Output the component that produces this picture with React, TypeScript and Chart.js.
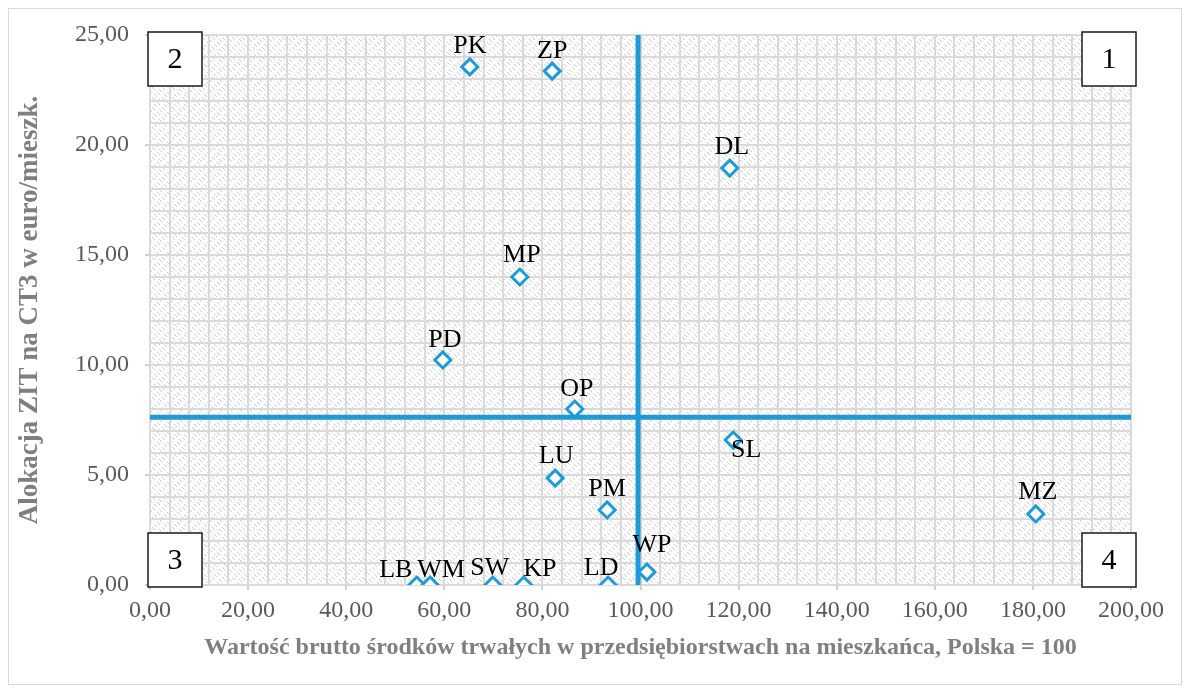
import React, { useEffect, useRef } from "react";
import { Chart, registerables } from "chart.js";

Chart.register(...registerables);

const regionCodes = ["PK", "ZP", "DL", "MP", "PD", "OP", "SL", "LU", "PM", "MZ", "WP", "LB", "WM", "SW", "KP", "LD"];
const assetValue = [65.2, 82.0, 118.2, 75.4, 59.7, 86.6, 118.9, 82.6, 93.2, 180.6, 101.3, 54.4, 57.1, 69.9, 76.2, 93.4];
const zitAllocation = [23.55, 23.36, 18.95, 14.0, 10.23, 8.0, 6.59, 4.86, 3.41, 3.23, 0.59, 0, 0, 0, 0, 0];

const xAverage = 99.5;
const yAverage = 7.62;
const quadrantNames = ["1", "2", "3", "4"];

// label placement (pixel offsets from the marker) – styling only
const labelOffsets: [number, number][] = [
  [0, -21], [0, -20], [2, -21], [2, -22], [2, -20], [2, -20], [13, 10], [1, -22],
  [0, -21], [2, -22], [5, -27], [-21, -15], [11, -15], [-3, -17], [16, -16], [-7, -17],
];

const BLUE = "#1E9AD6";
const SERIF = "'Liberation Serif', 'Times New Roman', serif";

function makeHatch(): CanvasPattern | string {
  const c = document.createElement("canvas");
  c.width = 10;
  c.height = 10;
  const g = c.getContext("2d");
  if (!g) return "#fff";
  g.fillStyle = "#ffffff";
  g.fillRect(0, 0, 10, 10);
  g.fillStyle = "rgb(206,206,206)";
  for (let x = 0; x < 10; x++) {
    for (let y = 0; y < 10; y++) {
      if (((x - y) % 5 + 5) % 5 === 0 && (x + y) % 10 < 6) g.fillRect(x, y, 1, 1);
    }
  }
  const p = g.createPattern(c, "repeat");
  return p || "#fff";
}

const hatchPlugin = {
  id: "hatchBg",
  beforeDraw(chart: any) {
    const { ctx, chartArea } = chart;
    ctx.save();
    ctx.fillStyle = makeHatch();
    ctx.fillRect(chartArea.left, chartArea.top, chartArea.right - chartArea.left, chartArea.bottom - chartArea.top);
    ctx.restore();
  },
};

const labelPlugin = {
  id: "pointLabels",
  afterDatasetsDraw(chart: any) {
    const { ctx } = chart;
    const meta = chart.getDatasetMeta(0);
    ctx.save();
    ctx.font = `26px ${SERIF}`;
    ctx.fillStyle = "#000";
    ctx.textAlign = "center";
    ctx.textBaseline = "middle";
    meta.data.forEach((el: any, i: number) => {
      const [dx, dy] = labelOffsets[i];
      ctx.fillText(regionCodes[i], el.x + dx, el.y + dy);
    });
    ctx.restore();
  },
};

const quadrantPlugin = {
  id: "quadrants",
  afterDraw(chart: any) {
    const { ctx, chartArea } = chart;
    const s = 54;
    const boxes: [number, number][] = [
      [chartArea.right + 5 - s, chartArea.top - 3],
      [chartArea.left - 2, chartArea.top - 3],
      [chartArea.left - 2, chartArea.bottom + 2 - s],
      [chartArea.right + 5 - s, chartArea.bottom + 2 - s],
    ];
    ctx.save();
    boxes.forEach(([x, y], i) => {
      ctx.fillStyle = "#fff";
      ctx.fillRect(x, y, s, s);
      ctx.strokeStyle = "#1a1a1a";
      ctx.lineWidth = 1.5;
      ctx.strokeRect(x, y, s, s);
      ctx.fillStyle = "#000";
      ctx.font = `30px ${SERIF}`;
      ctx.textAlign = "center";
      ctx.textBaseline = "middle";
      ctx.fillText(quadrantNames[i], x + s / 2, y + s / 2 + 1);
    });
    ctx.restore();
  },
};

const fmt = (v: number) => v.toFixed(2).replace(".", ",");

export default function App() {
  const ref = useRef<HTMLCanvasElement | null>(null);

  useEffect(() => {
    if (!ref.current) return;
    Chart.defaults.font.family = SERIF;
    const points = assetValue.map((x, i) => ({ x, y: zitAllocation[i] }));
    const chart = new Chart(ref.current, {
      type: "scatter",
      data: {
        datasets: [
          {
            label: "Województwa",
            data: points,
            pointStyle: "rectRot",
            pointRadius: 8,
            pointBorderWidth: 3,
            borderColor: BLUE,
            backgroundColor: "#ffffff",
            order: 0,
          },
          {
            label: "x avg",
            data: [{ x: xAverage, y: 0 }, { x: xAverage, y: 25 }],
            showLine: true,
            borderColor: BLUE,
            borderWidth: 5,
            pointRadius: 0,
            clip: false as any,
            order: 1,
          },
          {
            label: "y avg",
            data: [{ x: 0, y: yAverage }, { x: 200, y: yAverage }],
            showLine: true,
            borderColor: BLUE,
            borderWidth: 5,
            pointRadius: 0,
            clip: false as any,
            order: 1,
          },
        ],
      },
      options: {
        animation: false,
        responsive: true,
        maintainAspectRatio: false,
        layout: { padding: { left: 0, top: 26, right: 50, bottom: 0 } },
        plugins: { legend: { display: false }, tooltip: { enabled: false } },
        scales: {
          x: {
            type: "linear",
            min: 0,
            max: 200,
            afterFit: (s: any) => { s.height = 99; },
            ticks: {
              stepSize: 4,
              maxTicksLimit: 100,
              autoSkip: false,
              maxRotation: 0,
              padding: 6,
              color: "#595959",
              font: { size: 24, family: SERIF },
              callback: (v: any) => (Math.round(v) % 20 === 0 ? fmt(Number(v)) : ""),
            },
            grid: {
              color: "#dadada",
              lineWidth: 2,
              tickLength: 5,
              tickColor: (c: any) => (c.tick && Math.round(c.tick.value) % 20 === 0 ? "#d0d0d0" : "rgba(0,0,0,0)"),
            },
            border: { display: false },
            title: {
              display: true,
              text: "Wartość brutto środków trwałych w przedsiębiorstwach na mieszkańca, Polska = 100",
              color: "#7f7f7f",
              font: { size: 24, weight: "bold", family: SERIF },
              padding: { top: 0, bottom: 22 },
            },
          },
          y: {
            type: "linear",
            min: 0,
            max: 25,
            afterFit: (s: any) => {
              s.width = 141;
              s.paddingTop = 0;
              s.paddingBottom = 0;
            },
            ticks: {
              stepSize: 1,
              maxTicksLimit: 100,
              autoSkip: false,
              padding: 16,
              color: "#595959",
              font: { size: 24, family: SERIF },
              callback: (v: any) => (Math.round(v) % 5 === 0 ? fmt(Number(v)) : ""),
            },
            grid: {
              color: "#dadada",
              lineWidth: 2,
              tickLength: 5,
              tickColor: (c: any) => (c.tick && Math.round(c.tick.value) % 5 === 0 ? "#d0d0d0" : "rgba(0,0,0,0)"),
            },
            border: { display: false },
            title: {
              display: true,
              text: "Alokacja ZIT na CT3 w euro/mieszk.",
              color: "#7f7f7f",
              font: { size: 27, weight: "bold", family: SERIF },
              padding: { top: 5, bottom: 0 },
            },
          },
        },
      },
      plugins: [hatchPlugin, labelPlugin, quadrantPlugin],
    });
    return () => chart.destroy();
  }, []);

  return (
    <div style={{ border: "1px solid #d9d9d9", width: 1172, height: 675, background: "#fff" }}>
      <div style={{ position: "relative", width: 1172, height: 675 }}>
        <canvas ref={ref} />
      </div>
    </div>
  );
}
